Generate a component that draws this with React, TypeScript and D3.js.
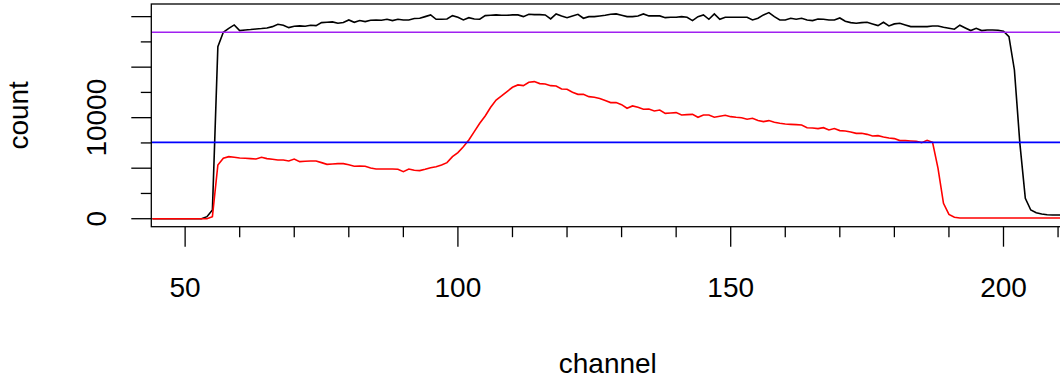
import React, { useEffect, useRef } from "react";
import * as d3 from "d3";

// channel numbers for every sample
const channels = d3.range(44, 213);

const total = [
  0, 0, 0, 0, 0, 0, 0, 0, 0, 0,
  200, 860, 17030, 18450, 18830, 19180, 18620, 18680, 18720, 18780,
  18820, 18880, 19010, 19240, 19150, 18910, 19050, 19080, 19050, 19150,
  19110, 19410, 19440, 19480, 19340, 19410, 19670, 19440, 19610, 19510,
  19640, 19670, 19640, 19740, 19610, 19740, 19670, 19670, 19810, 19840,
  20000, 20170, 19740, 19740, 19770, 20100, 19940, 19670, 19900, 19770,
  19740, 20100, 20130, 20170, 20130, 20130, 20170, 20170, 20000, 20230,
  20200, 20200, 20170, 19770, 20270, 20070, 19900, 20070, 20230, 19840,
  20000, 20000, 20070, 20130, 20230, 20270, 20130, 20000, 20000, 20070,
  20270, 20070, 20070, 20070, 19900, 19940, 19940, 20000, 19940, 19610,
  20000, 20170, 19740, 20270, 19740, 19940, 19940, 19940, 19940, 19940,
  19670, 19840, 20170, 20400, 20000, 19670, 19670, 19840, 19740, 19840,
  19670, 19610, 19770, 19740, 19670, 19670, 19870, 19540, 19410, 19340,
  19410, 19440, 19280, 19110, 19440, 19080, 19280, 19340, 19180, 19010,
  19010, 19010, 19010, 19080, 19080, 18950, 18850, 18750, 19150, 18880,
  18620, 18850, 18620, 18680, 18680, 18650, 18550, 18020, 14720, 7460,
  2020, 860, 600, 470, 400, 370, 370, 360, 360,
];

const selected = [
  0, 0, 0, 0, 0, 0, 0, 0, 0, 0,
  0, 200, 5320, 5980, 6140, 6080, 6010, 5980, 5950, 5910,
  6080, 5950, 5880, 5810, 5810, 5710, 5910, 5650, 5680, 5710,
  5710, 5550, 5380, 5420, 5450, 5450, 5350, 5190, 5220, 5190,
  5020, 4920, 4920, 4920, 4920, 4890, 4660, 4920, 4790, 4760,
  4890, 5050, 5150, 5320, 5550, 6140, 6540, 7130, 7790, 8620,
  9440, 10170, 11030, 11750, 12150, 12580, 13010, 13240, 13170, 13500,
  13570, 13370, 13340, 13170, 13140, 12840, 12810, 12510, 12310, 12310,
  12080, 12020, 11890, 11690, 11490, 11490, 11290, 10930, 11160, 11030,
  10830, 10860, 10660, 10760, 10430, 10470, 10500, 10270, 10300, 10330,
  10040, 10270, 10270, 10040, 10140, 10240, 10100, 10040, 10000, 9840,
  9940, 9710, 9610, 9710, 9540, 9440, 9380, 9340, 9310, 9280,
  9010, 8980, 8920, 9010, 8780, 8920, 8720, 8680, 8590, 8450,
  8450, 8350, 8190, 8220, 8090, 7990, 7930, 7730, 7730, 7690,
  7660, 7530, 7760, 7560, 4990, 1520, 430, 140, 70, 70,
  70, 70, 70, 70, 70, 70, 70, 70, 70, 70,
  70, 70, 70, 70, 70, 70, 70, 70, 70,
];

const thresholds = [18450, 7560];
const thresholdColors = ["#A020F0", "#0000FF"];

const xTicks = [50, 100, 150, 200];
const xMinorTicks = d3.range(50, 211, 10);
const yTicks = [0, 5000, 10000, 15000, 20000];
const yMinorTicks = d3.range(0, 20001, 2500);
const yLabels = [0, 10000];

const width = 1060;
const height = 381;
const plot = { left: 151.3, right: 1064.6, top: 4, bottom: 226.7 };
const font = "'Liberation Sans', Arial, sans-serif";

export default function App() {
  const svgRef = useRef<SVGSVGElement>(null);

  useEffect(() => {
    const svg = d3.select(svgRef.current);
    svg.selectAll("*").remove();

    const x = d3
      .scaleLinear()
      .domain([43.8, 211.2])
      .range([plot.left, plot.right]);
    const y = d3
      .scaleLinear()
      .domain([-790, 21250])
      .range([plot.bottom, plot.top]);

    svg
      .append("clipPath")
      .attr("id", "plotclip")
      .append("rect")
      .attr("x", plot.left)
      .attr("y", plot.top)
      .attr("width", plot.right - plot.left)
      .attr("height", plot.bottom - plot.top);

    const g = svg.append("g").attr("clip-path", "url(#plotclip)");

    const line = d3
      .line<number>()
      .x((d, i) => x(channels[i]))
      .y((d) => y(d));

    g.append("path")
      .attr("fill", "none")
      .attr("stroke", "black")
      .attr("stroke-width", 1.6)
      .attr("d", line(total));

    g.append("path")
      .attr("fill", "none")
      .attr("stroke", "#FF0000")
      .attr("stroke-width", 1.6)
      .attr("d", line(selected));

    // threshold lines
    g.selectAll("line.th")
      .data(thresholds)
      .join("line")
      .attr("x1", plot.left)
      .attr("x2", plot.right)
      .attr("y1", (d) => y(d))
      .attr("y2", (d) => y(d))
      .attr("stroke", (d, i) => thresholdColors[i])
      .attr("stroke-width", 1.6);

    // box
    svg
      .append("rect")
      .attr("x", plot.left)
      .attr("y", plot.top)
      .attr("width", plot.right - plot.left)
      .attr("height", plot.bottom - plot.top)
      .attr("fill", "none")
      .attr("stroke", "black")
      .attr("stroke-width", 1.3);

    // x axis ticks
    svg
      .append("g")
      .selectAll("line")
      .data(xMinorTicks)
      .join("line")
      .attr("x1", (d) => x(d))
      .attr("x2", (d) => x(d))
      .attr("y1", plot.bottom)
      .attr("y2", (d) => plot.bottom + (xTicks.includes(d) ? 20 : 10.5))
      .attr("stroke", "black")
      .attr("stroke-width", 1.3);

    svg
      .append("g")
      .selectAll("text")
      .data(xTicks)
      .join("text")
      .attr("x", (d) => x(d))
      .attr("y", 297)
      .attr("text-anchor", "middle")
      .attr("font-family", font)
      .attr("font-size", 28)
      .text((d) => d);

    // y axis ticks
    svg
      .append("g")
      .selectAll("line")
      .data(yMinorTicks)
      .join("line")
      .attr("x1", plot.left)
      .attr("x2", (d) => plot.left - (yTicks.includes(d) ? 20 : 10.5))
      .attr("y1", (d) => y(d))
      .attr("y2", (d) => y(d))
      .attr("stroke", "black")
      .attr("stroke-width", 1.3);

    svg
      .append("g")
      .selectAll("text")
      .data(yLabels)
      .join("text")
      .attr("transform", (d) => `translate(106,${y(d)}) rotate(-90)`)
      .attr("text-anchor", "middle")
      .attr("font-family", font)
      .attr("font-size", 28)
      .text((d) => d);

    svg
      .append("text")
      .attr("x", 607.8)
      .attr("y", 373)
      .attr("text-anchor", "middle")
      .attr("font-family", font)
      .attr("font-size", 28)
      .text("channel");

    svg
      .append("text")
      .attr("transform", `translate(28.3,${(plot.top + plot.bottom) / 2}) rotate(-90)`)
      .attr("text-anchor", "middle")
      .attr("font-family", font)
      .attr("font-size", 28)
      .text("count");
  }, []);

  return (
    <svg
      ref={svgRef}
      width={width}
      height={height}
      style={{ position: "absolute", left: 0, top: 0, background: "white" }}
    ></svg>
  );
}
